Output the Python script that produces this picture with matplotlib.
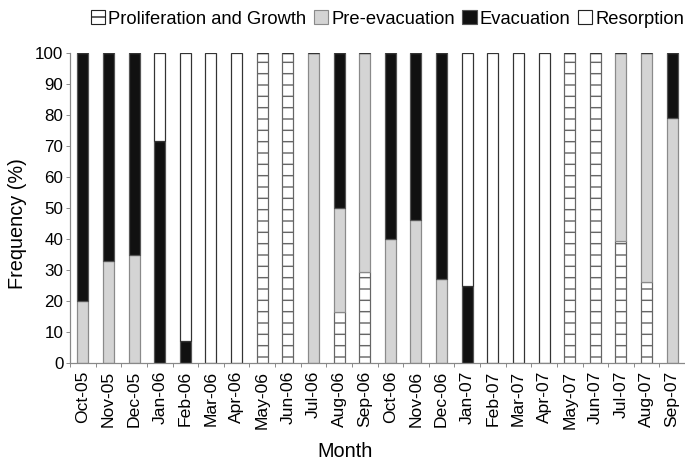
import matplotlib
matplotlib.use("Agg")
import matplotlib.pyplot as plt
from matplotlib.patches import Patch
import numpy as np

plt.rcParams['font.family'] = ['Liberation Sans', 'DejaVu Sans']
plt.rcParams['hatch.linewidth'] = 1.5
plt.rcParams['hatch.color'] = '#111111'

months = ["Oct-05", "Nov-05", "Dec-05", "Jan-06", "Feb-06", "Mar-06", "Apr-06",
          "May-06", "Jun-06", "Jul-06", "Aug-06", "Sep-06", "Oct-06", "Nov-06",
          "Dec-06", "Jan-07", "Feb-07", "Mar-07", "Apr-07", "May-07", "Jun-07",
          "Jul-07", "Aug-07", "Sep-07"]

proliferation = [0, 0, 0, 0, 0, 0, 0, 100, 100, 0, 16.5, 29.5, 0, 0, 0, 0,
                 0, 0, 0, 100, 100, 39.5, 26, 0]
pre_evacuation = [20, 33, 35, 0, 0, 0, 0, 0, 0, 100, 33.5, 70.5, 40, 46, 27, 0,
                  0, 0, 0, 0, 0, 60.5, 74, 79]
evacuation = [80, 67, 65, 71.5, 7, 0, 0, 0, 0, 0, 50, 0, 60, 54, 73, 25,
              0, 0, 0, 0, 0, 0, 0, 21]
resorption = [0, 0, 0, 28.5, 93, 100, 100, 0, 0, 0, 0, 0, 0, 0, 0, 75,
              100, 100, 100, 0, 0, 0, 0, 0]

DPI = 68
fig = plt.figure(figsize=(685 / DPI, 466 / DPI), dpi=DPI)
ax = fig.add_axes([70 / 685, 1 - 363 / 466, 615 / 685, 310 / 466])

x = np.arange(len(months))
w = 0.43
bottom = np.zeros(len(months))

series = [
    (proliferation, dict(color='white', edgecolor='#666666', hatch='-'), "Proliferation and Growth"),
    (pre_evacuation, dict(color='#d4d4d4', edgecolor='#8a8a8a'), "Pre-evacuation"),
    (evacuation, dict(color='#111111', edgecolor='#555555'), "Evacuation"),
    (resorption, dict(color='white', edgecolor='#333333'), "Resorption"),
]
handles = []
for vals, style, label in series:
    vals = np.array(vals, dtype=float)
    ax.bar(x, vals, w, bottom=bottom, linewidth=1.3, **style)
    bottom += vals
    handles.append(Patch(facecolor=style['color'],
                         edgecolor='#222222' if style['color'] == 'white' else style['edgecolor'],
                         hatch=style.get('hatch'), linewidth=1.2, label=label))

ax.set_xlim(-0.5, len(months) - 0.5)
ax.set_ylim(0, 100)
ax.set_yticks(np.arange(0, 101, 10))
ax.tick_params(axis='y', labelsize=18, length=4, width=1, color='#888888', pad=3)
ax.set_xticks(x)
ax.set_xticklabels(months, rotation=90, fontsize=18.5)
ax.tick_params(axis='x', length=0, pad=8)
ax.set_xticks(np.arange(-0.5, len(months), 1), minor=True)
ax.tick_params(axis='x', which='minor', length=4, width=1, color='#888888')

for side in ('top', 'right'):
    ax.spines[side].set_visible(False)
for side in ('left', 'bottom'):
    ax.spines[side].set_color('#888888')
    ax.spines[side].set_linewidth(1.3)

ax.set_ylabel("Frequency (%)", fontsize=21, va='center')
ax.yaxis.set_label_coords(-0.085, 0.45)
ax.set_xlabel("Month", fontsize=21, va='center')
ax.xaxis.set_label_coords(0.447, -0.287)

fig.legend(handles=handles, loc='center right', bbox_to_anchor=(684 / 685, 1 - 19 / 466),
           ncol=4, frameon=False, fontsize=19.5, handlelength=0.8, handleheight=0.75,
           handletextpad=0.15, columnspacing=0.4, borderpad=0, borderaxespad=0)

fig.savefig("out.png", dpi=DPI)
